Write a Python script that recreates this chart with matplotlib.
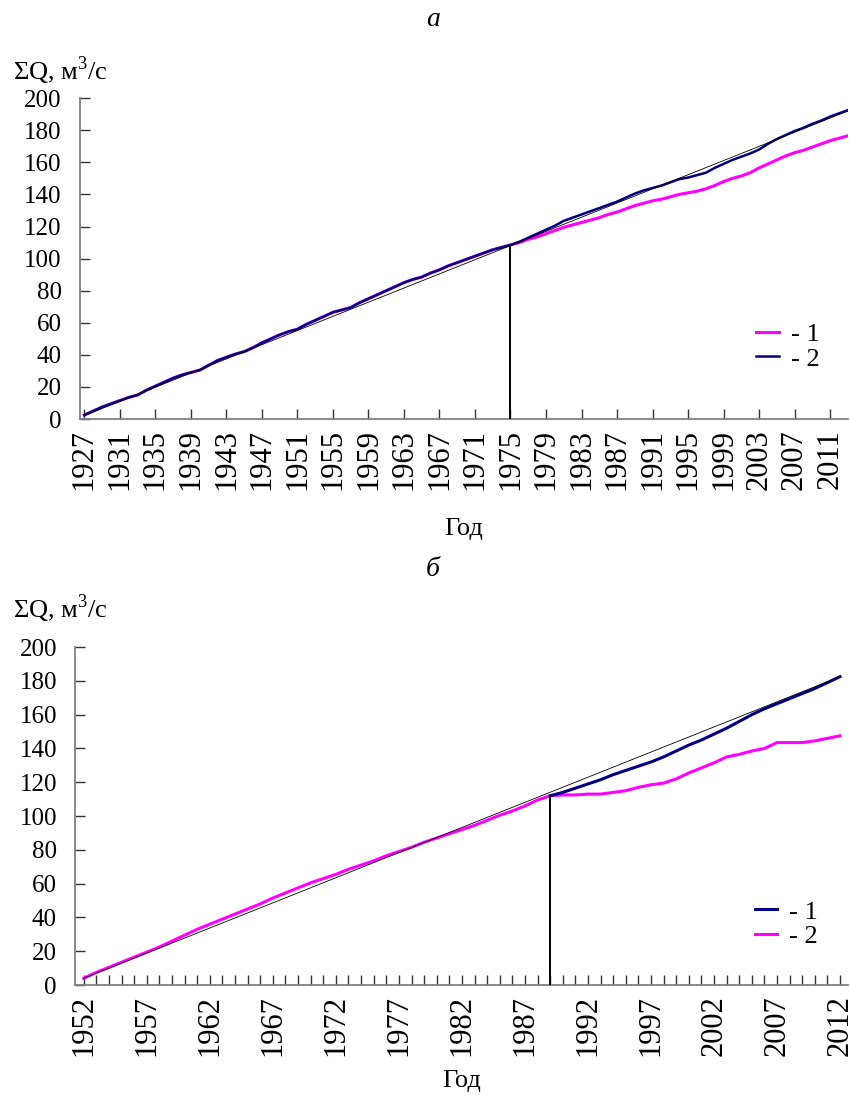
import matplotlib
matplotlib.use("Agg")
import matplotlib.pyplot as plt
import numpy as np

# ---- panel a: 1927-2013 ----
years_a = list(range(1927, 2014))
common_a = [2.5, 5.0, 7.5, 9.5, 11.5, 13.5, 15.0, 18.0, 20.5, 23.0,
            25.5, 27.5, 29.0, 30.5, 33.5, 36.5, 38.5, 40.5, 42.0, 44.5,
            47.5, 50.0, 52.5, 54.5, 56.0, 59.0, 61.5, 64.0, 66.5, 68.0,
            69.5, 72.5, 75.0, 77.5, 80.0, 82.5, 85.0, 87.0, 88.5, 91.0,
            93.0, 95.5, 97.5, 99.5, 101.5, 103.5, 105.5, 107.0, 108.5]  # 1927-1975
mag_a_after = [110.0, 112.0, 113.5, 115.5, 117.5, 119.5, 121.0, 122.5, 124.0, 125.5,
               127.5, 129.0, 131.0, 133.0, 134.5, 136.0, 137.0, 138.5, 140.0, 141.0,
               142.0, 143.5, 145.5, 148.0, 150.0, 151.5, 153.5, 156.5, 159.0, 161.5,
               164.0, 166.0, 167.5, 169.5, 171.5, 173.5, 175.0, 176.5]  # 1976-2013
navy_a_after = [110.5, 113.0, 115.5, 118.0, 120.5, 123.5, 125.5, 127.5, 129.5, 131.5,
                133.5, 135.5, 138.0, 140.5, 142.5, 144.0, 145.5, 147.5, 149.5, 150.5,
                152.0, 153.5, 156.5, 159.0, 161.5, 163.5, 165.5, 168.0, 171.5, 174.5,
                177.0, 179.5, 181.5, 184.0, 186.0, 188.5, 190.5, 192.5]  # 1976-2013
trend_a_x = [1927, 2013]
trend_a_y = [2.2, 192.0]
break_a = 1975

# ---- panel b: 1952-2012 ----
years_b = list(range(1952, 2013))
mag_b = [4.0, 7.5, 10.5, 13.5, 16.5, 19.5, 22.5, 26.0, 29.5, 33.0,
         36.0, 39.0, 42.0, 45.0, 48.0, 51.5, 54.5, 57.5, 60.5, 63.0,
         65.5, 68.5, 71.0, 73.5, 76.5, 79.0, 81.5, 84.5, 87.0, 89.5,
         92.0, 94.5, 97.5, 100.5, 103.0, 106.0, 109.5, 112.0,
         112.5, 112.5, 113.0, 113.0, 114.0, 115.0, 117.0, 118.5, 119.5, 122.0,
         125.5, 128.5, 131.5, 135.0, 136.5, 138.5, 140.0, 143.5, 143.5, 143.5,
         144.5, 146.0, 147.5]
years_b_navy = list(range(1989, 2013))
navy_b = [112.0, 114.0, 116.5, 119.0, 121.5, 124.5, 127.0, 129.5, 132.0, 135.0,
          138.5, 142.0, 145.0, 148.5, 152.0, 156.0, 160.0, 163.5, 166.5, 169.5,
          172.5, 175.5, 179.0, 182.5]
trend_b_x = [1952, 2012]
trend_b_y = [4.0, 182.5]
break_b = 1989

MAG = "#FF00FF"
NAVY = "#000080"
GRAY = "#808080"

plt.rcParams["font.family"] = ["Liberation Serif", "DejaVu Serif"]
plt.rcParams["mathtext.fontset"] = "custom"
plt.rcParams["mathtext.rm"] = "Liberation Serif"

fig = plt.figure(figsize=(8.5, 10.99), dpi=100)
ax1 = fig.add_axes([0.094, 0.6187, 0.9035, 0.292])
ax2 = fig.add_axes([0.0882, 0.1037, 0.909, 0.3075])


def style_axes(ax, xlabelpad):
    for s in ["top", "right"]:
        ax.spines[s].set_visible(False)
    for s in ["left", "bottom"]:
        ax.spines[s].set_color(GRAY)
        ax.spines[s].set_linewidth(1.3)
    ax.set_ylim(0, 200)
    ax.set_yticks(np.arange(0, 201, 20))
    ax.tick_params(axis="both", which="both", direction="in", length=7,
                   width=1.0, color="#333333", labelsize=18)
    ax.tick_params(axis="y", pad=13)
    ax.tick_params(axis="x", pad=7, labelsize=22)
    ax.set_xlabel("Год", fontsize=19, labelpad=xlabelpad)


leg_kw = dict(loc="center left", frameon=False, fontsize=19, handlelength=0.85,
              handletextpad=0.45, labelspacing=0.05, borderpad=0, borderaxespad=0)

# panel a
mag_a = common_a + mag_a_after
navy_a = common_a + navy_a_after
ax1.plot(years_a, mag_a, color=MAG, lw=2.2, zorder=3, label="- 1")
ax1.plot(years_a, navy_a, color=NAVY, lw=1.8, zorder=4, label="- 2")
ax1.plot(trend_a_x, trend_a_y, color="black", lw=0.6, zorder=5)
ax1.vlines(break_a, 0, mag_a[years_a.index(break_a)], color="black", lw=1.4, zorder=6)
ax1.set_xlim(1926.5, 2013)
ax1.set_xticks(years_a[::4])
ax1.set_xticklabels([str(y) for y in years_a[::4]], rotation=90)
style_axes(ax1, 20)
ax1.legend(bbox_to_anchor=(0.881, 0.226), **leg_kw)

# panel b
ax2.plot(years_b, mag_b, color=MAG, lw=2.2, zorder=3, label="- 2")
ax2.plot(years_b_navy, navy_b, color=NAVY, lw=2.2, zorder=4, label="- 1")
ax2.plot(trend_b_x, trend_b_y, color="black", lw=0.6, zorder=5)
ax2.vlines(break_b, 0, mag_b[years_b.index(break_b)], color="black", lw=1.4, zorder=6)
ax2.set_xlim(1951.3, 2012.6)
ax2.set_xticks(years_b, minor=True)
ax2.set_xticks(years_b[::5])
ax2.set_xticklabels([str(y) for y in years_b[::5]], rotation=90)
style_axes(ax2, 10)
h, l = ax2.get_legend_handles_labels()
ax2.legend(h[::-1], l[::-1], bbox_to_anchor=(0.88, 0.18), **leg_kw)

fig.text(0.015, 0.936, r"ΣQ, м$^3$/с", fontsize=19, ha="left", va="center")
fig.text(0.015, 0.446, r"ΣQ, м$^3$/с", fontsize=19, ha="left", va="center")
fig.text(0.509, 0.982, "а", fontsize=20, style="italic", ha="center", va="center")
fig.text(0.509, 0.482, "б", fontsize=20, style="italic", ha="center", va="center")

fig.savefig("out.png", dpi=100)
